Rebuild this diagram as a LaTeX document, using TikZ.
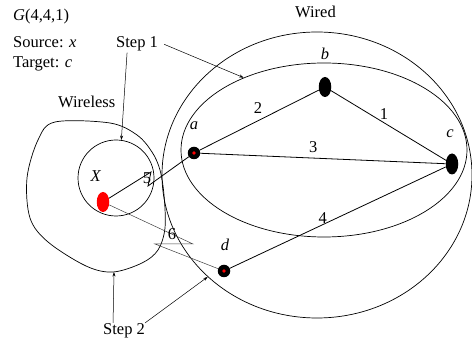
\documentclass[tikz,border=0pt]{standalone}
\usepackage{fontspec}
\setmainfont{Liberation Serif}
\usetikzlibrary{arrows.meta, shapes.geometric}

\begin{document}
\begin{tikzpicture}[x=1pt, y=-1pt, >={Stealth[length=4.5pt, width=3pt]},
    font=\fontsize{16.5}{19}\selectfont, every node/.style={inner sep=1pt},
    region/.style={ellipse, draw, line width=0.7pt, inner sep=0pt},
    vertex/.style={ellipse, fill=black, inner sep=0pt, minimum width=12.5pt, minimum height=20pt},
    dotvertex/.style={circle, fill=black, inner sep=0pt, minimum size=12.5pt,
        path picture={\fill[red] (path picture bounding box.center) circle (1.8pt);}},
    edge/.style={line width=0.8pt},
    thinedge/.style={line width=0.5pt, black!75},
    pointer/.style={->, line width=0.5pt}]
    % page size of the reference
    \useasboundingbox (0,0) rectangle (472,344);

    % --- Regions ---
    \node[region, minimum width=310pt, minimum height=286pt] (wired) at (317,175) {};
    \node[region, minimum width=286pt, minimum height=174pt] (core) at (324,150) {};
    \node[region, circle, minimum size=76pt] (cell) at (116,178) {};
    % Wireless area (freehand outline)
    \draw[line width=0.7pt] plot[smooth cycle, tension=0.55] coordinates {
        (55,122) (110,123) (137,135) (152,152) (160,170) (164,195) (165,228)
        (158,250) (142,263) (113,272) (86,266) (48,242) (30,218) (27,178) (38,140)};
    \coordinate (blobbot) at (114,272);

    % --- Texts ---
    \node[anchor=base west] (title) at (12,21) {\textit{G}(4,4,1)};
    \node[anchor=base west] (source) at (12,48) {Source: \textit{x}};
    \node[anchor=base west] (target) at (12,68) {Target: \textit{c}};
    \node[anchor=base west] (wireless) at (57,108) {Wireless};
    \node[anchor=base west] (wiredlbl) at (294,18) {Wired};
    \node[anchor=base west] (step1) at (115,48) {Step 1};
    \node[anchor=base west] (step2) at (102,335) {Step 2};

    % --- Vertices ---
    \node[dotvertex] (a) at (194,153) {};
    \node[vertex] (b) at (325,87) {};
    \node[vertex, minimum height=21pt] (c) at (452,164) {};
    \node[dotvertex] (d) at (224,271) {};
    \node[vertex, fill=red] (x) at (103,202) {};

    \node[anchor=base] (la) at (194,130) {\textit{a}};
    \node[anchor=base] (lb) at (325,60) {\textit{b}};
    \node[anchor=base] (lc) at (450,138) {\textit{c}};
    \node[anchor=base] (ld) at (225,251) {\textit{d}};
    \node[anchor=base] (lx) at (96,182) {\textit{X}};

    % --- Links ---
    \draw[edge] (a) -- node[pos=.49, yshift=13pt] {2} (b);
    \draw[edge] (b) -- node[pos=.46, yshift=9pt] {1} (c);
    \draw[edge] (a) -- node[pos=.46, yshift=10.5pt] {3} (c);
    \draw[edge] (d) -- node[pos=.43, yshift=7pt] {4} (c);

    % wireless links
    \coordinate (z5a) at (151,172);
    \coordinate (z5b) at (148,186);
    \draw[edge] (x) -- (z5a) -- (z5b) -- (a);
    \node (w5) at (147,178) {5};
    \coordinate (z6a) at (193,244);
    \coordinate (z6b) at (155,244);
    \draw[thinedge] (x) -- (z6a) -- (z6b) -- (d);
    \node (w6) at (172,234) {6};

    % --- Step pointers ---
    \draw[pointer] ([xshift=5pt]step1.east) -- (core.138);
    \draw[pointer] ([xshift=-10pt]step1.south) -- (cell.82);
    \draw[pointer] ([xshift=-11pt]step2.north) -- (blobbot);
    \draw[pointer] ([xshift=-1pt]step2.north east) -- (wired.223);

\end{tikzpicture}
\end{document}
